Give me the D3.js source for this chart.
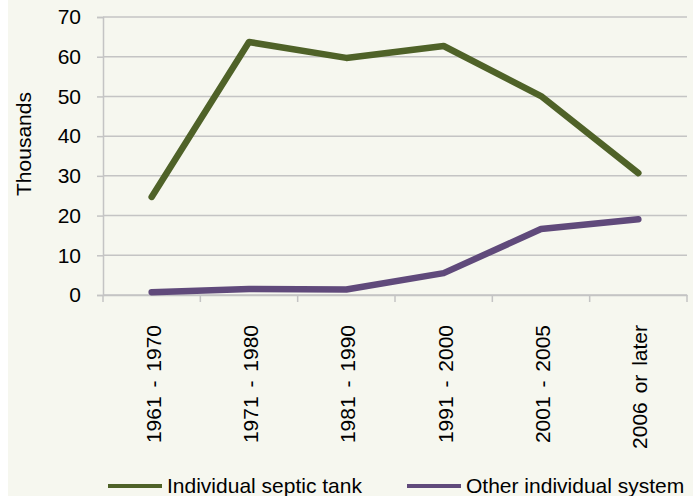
<!DOCTYPE html>
<html>
<head>
<meta charset="utf-8">
<script src="https://cdn.jsdelivr.net/npm/d3@7"></script>
<style>
  html, body { margin: 0; padding: 0; background: #ffffff; }
  svg { display: block; font-family: "Liberation Sans", Arial, sans-serif; }
</style>
</head>
<body>
<svg id="chart" width="697" height="496"></svg>
<script>
const categories = ["1961 - 1970", "1971 - 1980", "1981 - 1990", "1991 - 2000", "2001 - 2005", "2006 or later"];
const septicTank = [24.7, 63.7, 59.7, 62.7, 50.1, 30.7];
const otherSystem = [0.7, 1.5, 1.4, 5.5, 16.6, 19.1];
const yTicks = [0, 10, 20, 30, 40, 50, 60, 70];
const seriesNames = ["Individual septic tank", "Other individual system"];
const seriesColors = ["#4f6228", "#604a7b"];

(function () {
const svg = d3.select("#chart");
svg.append("rect").attr("x", 8).attr("y", 0).attr("width", 685).attr("height", 496).attr("fill", "#f6f7ef");

const pL = 103, pR = 687, pT = 17, pB = 295;
const x = d3.scaleBand().domain(categories).range([pL, pR]);
const y = d3.scaleLinear().domain([0, 70]).range([pB, pT]);

// gridlines
svg.append("g").selectAll("line").data(yTicks).join("line")
  .attr("x1", pL).attr("x2", pR)
  .attr("y1", d => y(d)).attr("y2", d => y(d))
  .attr("stroke", "#c4c4c4").attr("stroke-width", 1.5);

// y axis
const yAxis = svg.append("g").attr("transform", `translate(${pL},0)`)
  .call(d3.axisLeft(y).tickValues(yTicks).tickSize(6).tickPadding(16).tickFormat(d3.format("d")));
yAxis.select(".domain").attr("stroke", "#c4c4c4").attr("stroke-width", 1.5);
yAxis.selectAll(".tick line").attr("stroke", "#c4c4c4").attr("stroke-width", 1.5);
yAxis.selectAll(".tick text").attr("font-size", 21).attr("fill", "#000").attr("font-family", "Liberation Sans, Arial, sans-serif");

// x axis
const xAxis = svg.append("g").attr("transform", `translate(0,${pB})`)
  .call(d3.axisBottom(x).tickSize(0).tickSizeOuter(0));
xAxis.select(".domain").attr("stroke", "#c4c4c4").attr("stroke-width", 1.5);
// band boundary ticks
const bounds = categories.map(c => x(c)).concat([pR]);
svg.append("g").selectAll("line").data(bounds).join("line")
  .attr("x1", d => d).attr("x2", d => d)
  .attr("y1", pB).attr("y2", pB + 7)
  .attr("stroke", "#c4c4c4").attr("stroke-width", 1.5);
xAxis.selectAll(".tick text")
  .attr("font-size", 21).attr("fill", "#000").attr("font-family", "Liberation Sans, Arial, sans-serif")
  .attr("text-anchor", "end")
  .attr("word-spacing", 3)
  .attr("dy", null)
  .attr("y", 0)
  .attr("transform", "translate(9,30) rotate(-90)");

// y label
svg.append("text").attr("transform", "translate(31,144) rotate(-90)")
  .attr("text-anchor", "middle").attr("font-size", 21).attr("fill", "#000")
  .text("Thousands");

// lines
const line = d3.line().x((d, i) => x(categories[i]) + x.bandwidth() / 2).y(d => y(d));
[septicTank, otherSystem].forEach((s, i) => {
  svg.append("path").datum(s).attr("d", line)
    .attr("fill", "none").attr("stroke", seriesColors[i]).attr("stroke-width", 6.5)
    .attr("stroke-linejoin", "round").attr("stroke-linecap", "round");
});

// legend
const legendX = [108, 407];
seriesNames.forEach((n, i) => {
  const g = svg.append("g");
  g.append("line").attr("x1", legendX[i]).attr("x2", legendX[i] + 54)
    .attr("y1", 486).attr("y2", 486).attr("stroke", seriesColors[i]).attr("stroke-width", 4);
  g.append("text").attr("x", legendX[i] + 59).attr("y", 493)
    .attr("font-size", 21).attr("fill", "#000").text(n);
});
})();
</script>
</body>
</html>
